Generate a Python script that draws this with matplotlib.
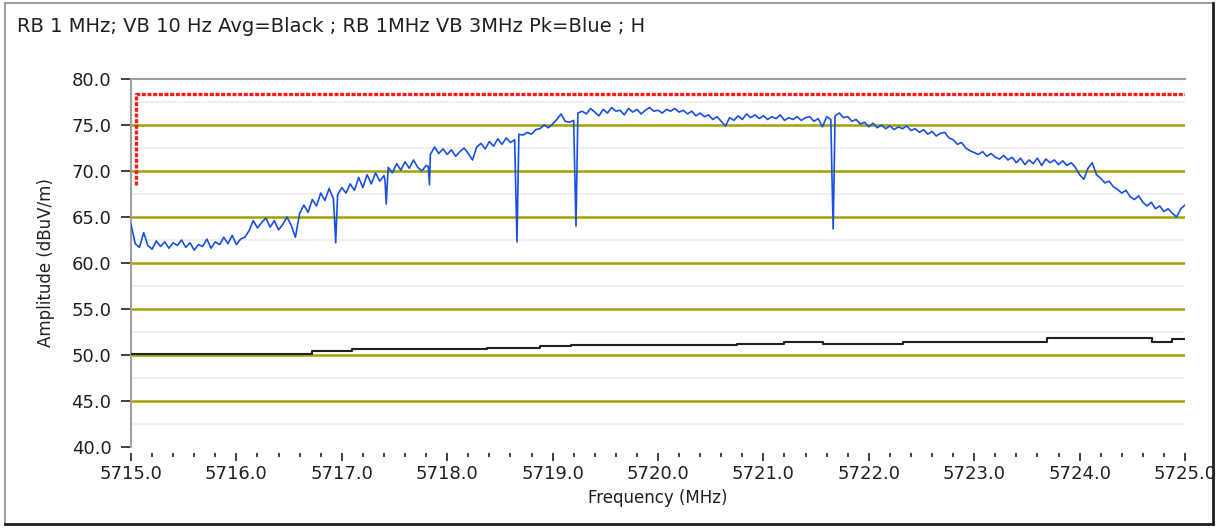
import numpy as np
import matplotlib
matplotlib.use('Agg')
import matplotlib.pyplot as plt
from matplotlib.lines import Line2D
from matplotlib.ticker import MultipleLocator, FormatStrFormatter

title_text = 'RB 1 MHz; VB 10 Hz Avg=Black ; RB 1MHz VB 3MHz Pk=Blue ; H'
x_label = 'Frequency (MHz)'
y_label = 'Amplitude (dBuV/m)'

# peak trace (blue), one reading every 0.04 MHz, 5715.0 .. 5725.0
pk_level = [
    64.2, 62.1, 61.7, 63.3, 61.9, 61.5, 62.4, 61.8, 62.3, 61.6, 62.2, 61.9, 62.5, 61.7, 62.2, 61.4, 62.0, 61.8, 62.6, 61.6, 62.3, 62.0, 62.8, 62.1, 63.0,
    62.0, 62.6, 62.8, 63.5, 64.6, 63.8, 64.4, 64.9, 63.9, 64.6, 63.6, 64.2, 65.0, 64.1, 62.8, 65.4, 66.3, 65.5, 66.9, 66.2, 67.6, 66.8, 68.1, 67.0, 67.4,
    68.2, 67.6, 68.6, 67.9, 69.3, 68.2, 69.6, 68.6, 69.8, 68.9, 69.5, 70.4, 69.8, 70.8, 70.1, 71.0, 70.3, 71.2, 70.4, 70.0, 70.6, 71.8, 72.6, 71.9, 72.4,
    71.8, 72.3, 71.6, 72.1, 72.5, 71.9, 71.2, 72.6, 73.0, 72.4, 73.2, 72.7, 73.5, 72.9, 73.6, 73.1, 73.4, 74.0, 73.9, 74.2, 74.0, 74.5, 74.6, 75.0, 74.7,
    75.1, 75.6, 76.2, 75.4, 75.3, 75.5, 76.3, 76.5, 76.2, 76.8, 76.4, 76.0, 76.7, 76.3, 76.9, 76.5, 76.6, 76.1, 76.8, 76.4, 76.7, 76.2, 76.6, 76.9, 76.5,
    76.6, 76.3, 76.7, 76.5, 76.8, 76.4, 76.6, 76.2, 76.5, 76.0, 76.3, 75.9, 76.1, 75.6, 75.9, 75.4, 74.9, 75.8, 75.5, 76.0, 75.6, 76.2, 75.8, 76.1, 75.7,
    76.0, 75.6, 75.9, 75.7, 76.1, 75.5, 75.8, 75.6, 75.9, 75.5, 75.8, 75.9, 75.4, 75.7, 74.8, 75.9, 75.6, 76.0, 76.3, 75.8, 75.9, 75.4, 75.6, 75.1, 75.3,
    74.8, 75.2, 74.7, 75.0, 74.6, 74.9, 74.5, 74.8, 74.6, 74.9, 74.4, 74.6, 74.2, 74.5, 74.0, 74.3, 73.8, 74.1, 74.2, 73.6, 73.4, 72.9, 73.1, 72.5, 72.2,
    72.0, 71.8, 72.1, 71.6, 71.9, 71.5, 71.3, 71.7, 71.2, 71.5, 70.9, 71.4, 70.7, 71.2, 70.8, 71.4, 70.6, 71.3, 70.9, 71.2, 70.7, 71.1, 70.6, 70.9, 70.4,
    69.6, 69.1, 70.3, 70.9, 69.6, 69.2, 68.7, 68.9, 68.3, 68.0, 67.6, 67.9, 67.2, 66.9, 67.3, 66.6, 66.2, 66.6, 65.9, 66.2, 65.6, 65.9, 65.4, 65.0, 65.9,
    66.3,
]
pk_freq = np.linspace(5715.0, 5725.0, len(pk_level))

# narrow dropouts in the peak trace
spike_freq = [5716.93, 5717.41, 5717.82, 5718.65, 5719.21, 5721.65]
spike_shoulder = [65.0, 69.0, 70.5, 68.2, 70.0, 69.7]
spike_bottom = [62.2, 66.4, 68.5, 62.3, 64.0, 63.7]

# average trace (black), step values
avg_freq = [5715.0, 5716.72, 5717.1, 5717.6, 5717.93, 5718.38, 5718.88, 5719.17,
            5720.75, 5721.2, 5721.57, 5722.32, 5723.69, 5724.69, 5724.88, 5725.0]
avg_level = [50.1, 50.4, 50.65, 50.6, 50.65, 50.8, 51.0, 51.05,
             51.15, 51.45, 51.15, 51.4, 51.8, 51.45, 51.75, 51.75]

# limit line (red)
limit_freq = [5715.05, 5715.05, 5725.0]
limit_level = [68.5, 78.4, 78.4]

olive = '#a3a300'
blue = '#1a4fe6'

fig = plt.figure(figsize=(12.25, 5.28), dpi=100)

# sunken panel border: light on top/left, dark on right/bottom
W, H = 1225.0, 528.0
x0, x1, y0, y1 = 5 / W, 1213 / W, 1 - 524 / H, 1 - 3 / H
fig.lines.append(Line2D([x0, x1], [y1, y1], transform=fig.transFigure, color='#a0a0a0', linewidth=1.5))
fig.lines.append(Line2D([x0, x0], [y0, y1], transform=fig.transFigure, color='#a0a0a0', linewidth=1.5))
fig.lines.append(Line2D([x1, x1], [y0, y1], transform=fig.transFigure, color='#202020', linewidth=2))
fig.lines.append(Line2D([x0, x1], [y0, y0], transform=fig.transFigure, color='#202020', linewidth=2))

ax = fig.add_axes([131 / W, 1 - 447 / H, 1054 / W, 368 / H])

# merge the dropouts into the trace
f_all = np.concatenate([pk_freq, spike_freq, np.array(spike_freq) + 0.012])
l_all = np.concatenate([pk_level, spike_shoulder, spike_bottom])
order = np.argsort(f_all)

ax.plot(f_all[order], l_all[order], color=blue, linewidth=1.2, zorder=3)
ax.plot(avg_freq, avg_level, color='#202020', linewidth=1.5, drawstyle='steps-post', zorder=3)
ax.plot(limit_freq, limit_level, color='#ff1a1a', linewidth=2.4, linestyle=(0, (1.2, 0.5)), zorder=4)

ax.set_xlim(5715.0, 5725.0)
ax.set_ylim(40.0, 80.0)
ax.xaxis.set_major_locator(MultipleLocator(1.0))
ax.xaxis.set_minor_locator(MultipleLocator(0.2))
ax.yaxis.set_major_locator(MultipleLocator(5.0))
ax.yaxis.set_minor_locator(MultipleLocator(2.5))
ax.xaxis.set_major_formatter(FormatStrFormatter('%.1f'))
ax.yaxis.set_major_formatter(FormatStrFormatter('%.1f'))

for y in np.arange(45.0, 80.0, 5.0):
    ax.axhline(y, color=olive, linewidth=1.8, zorder=1)
for y in np.arange(42.5, 80.0, 5.0):
    ax.axhline(y, color='#ededed', linewidth=1.2, zorder=0)

for s in ['right', 'bottom']:
    ax.spines[s].set_visible(False)
ax.spines['top'].set_color('#a0a0a0')
ax.spines['top'].set_linewidth(1.5)
ax.spines['left'].set_color('#a0a0a0')
ax.spines['left'].set_linewidth(1.5)
ax.spines['bottom'].set_position(('outward', 4))

ax.tick_params(axis='y', which='major', length=7, width=1.4, color='#404040', pad=7,
               labelsize=13, labelcolor='#202020')
ax.tick_params(axis='y', which='minor', length=0)
ax.tick_params(axis='x', which='major', length=6, width=1.4, color='#404040', pad=3,
               labelsize=13, labelcolor='#202020')
ax.tick_params(axis='x', which='minor', length=3, width=1.4, color='#404040')

ax.set_xlabel(x_label, fontsize=12, color='#202020', labelpad=4)
ax.set_ylabel(y_label, fontsize=12, color='#202020', labelpad=12)
fig.text(17 / W, 1 - 27 / H, title_text, fontsize=14, color='#202020', va='center', ha='left')

fig.savefig('out.png', dpi=100)
